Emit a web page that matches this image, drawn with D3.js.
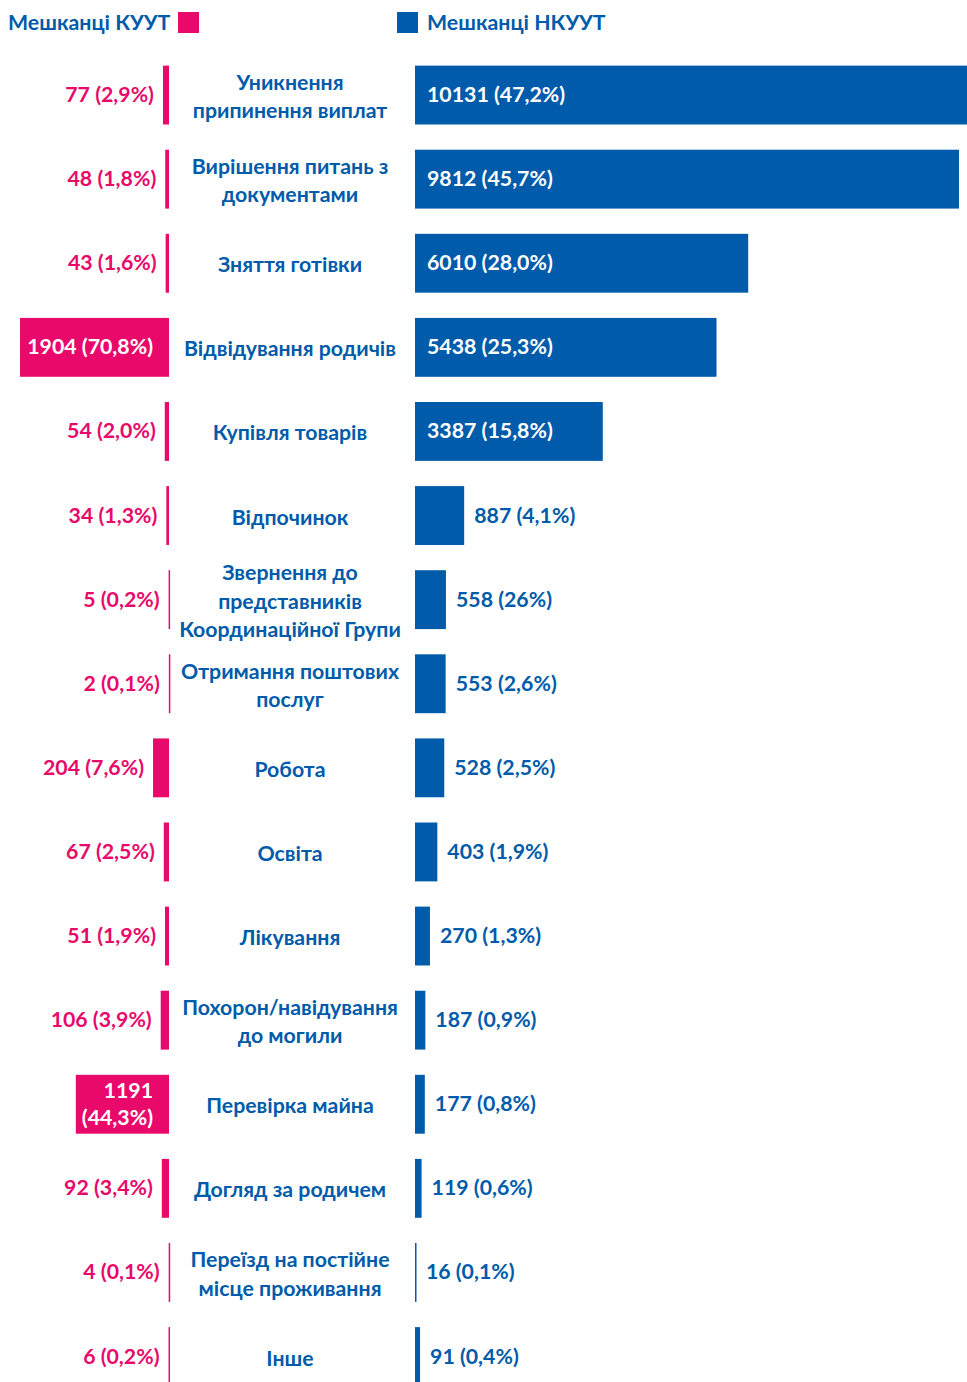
<!DOCTYPE html>
<html>
<head>
<meta charset="utf-8">
<script src="https://cdn.jsdelivr.net/npm/d3@7"></script>
<style>
  body { margin: 0; background: #fff; }
  text { font-family: Lato, "Open Sans", sans-serif; font-weight: 700; }
</style>
</head>
<body>
<svg id="chart" width="967" height="1382"></svg>
<script>
// categories (line breaks as in the original)
const categories = [
  ['Уникнення', 'припинення виплат'],
  ['Вирішення питань з', 'документами'],
  ['Зняття готівки'],
  ['Відвідування родичів'],
  ['Купівля товарів'],
  ['Відпочинок'],
  ['Звернення до', 'представників', 'Координаційної Групи'],
  ['Отримання поштових', 'послуг'],
  ['Робота'],
  ['Освіта'],
  ['Лікування'],
  ['Похорон/навідування', 'до могили'],
  ['Перевірка майна'],
  ['Догляд за родичем'],
  ['Переїзд на постійне', 'місце проживання'],
  ['Інше']
]
// residents of controlled area (КУУТ)
const kuutValues = [77, 48, 43, 1904, 54, 34, 5, 2, 204, 67, 51, 106, 1191, 92, 4, 6]
const kuutLabels = ['77 (2,9%)', '48 (1,8%)', '43 (1,6%)', '1904 (70,8%)', '54 (2,0%)', '34 (1,3%)',
  '5 (0,2%)', '2 (0,1%)', '204 (7,6%)', '67 (2,5%)', '51 (1,9%)', '106 (3,9%)',
  ['1191', '(44,3%)'], '92 (3,4%)', '4 (0,1%)', '6 (0,2%)']
// residents of non-controlled area (НКУУТ)
const nkuutValues = [10131, 9812, 6010, 5438, 3387, 887, 558, 553, 528, 403, 270, 187, 177, 119, 16, 91]
const nkuutLabels = ['10131 (47,2%)', '9812 (45,7%)', '6010 (28,0%)', '5438 (25,3%)', '3387 (15,8%)',
  '887 (4,1%)', '558 (26%)', '553 (2,6%)', '528 (2,5%)', '403 (1,9%)', '270 (1,3%)', '187 (0,9%)',
  '177 (0,8%)', '119 (0,6%)', '16 (0,1%)', '91 (0,4%)']
const legendNames = ['Мешканці КУУТ', 'Мешканці НКУУТ']

const pink = '#E8096B'
const blue = '#005BAA'
const fs = 21.3
const svg = d3.select('#chart')

const idx = d3.range(categories.length)
const y = d3.scaleBand().domain(idx).range([53, 53 + 16 * 84.1]).paddingInner(0.3).paddingOuter(0.15)
const xL = d3.scaleLinear().domain([0, 1904]).range([169, 20])
const xR = d3.scaleLinear().domain([0, 9812]).range([415, 959])

// legend
svg.append('text').attr('x', 8).attr('y', 30).attr('font-size', fs).attr('fill', blue).text(legendNames[0])
svg.append('rect').attr('x', 178).attr('y', 12).attr('width', 21).attr('height', 21).attr('fill', pink)
svg.append('rect').attr('x', 397).attr('y', 12).attr('width', 21).attr('height', 21).attr('fill', blue)
svg.append('text').attr('x', 427).attr('y', 30).attr('font-size', fs).attr('fill', blue).text(legendNames[1])

const row = svg.selectAll('g.row').data(idx).enter().append('g').attr('class', 'row')

// left bars
row.append('rect')
  .attr('x', i => xL(kuutValues[i]))
  .attr('y', i => y(i))
  .attr('width', i => Math.max(1.5, xL(0) - xL(kuutValues[i])))
  .attr('height', y.bandwidth())
  .attr('fill', pink)

// right bars
row.append('rect')
  .attr('x', xR(0))
  .attr('y', i => y(i))
  .attr('width', i => Math.max(1.5, xR(nkuutValues[i]) - xR(0)))
  .attr('height', y.bandwidth())
  .attr('fill', blue)

const mid = i => y(i) + y.bandwidth() / 2

// left value labels
row.each(function (i) {
  const g = d3.select(this)
  const inside = kuutValues[i] > 1000
  const lines = Array.isArray(kuutLabels[i]) ? kuutLabels[i] : [kuutLabels[i]]
  const t = g.append('text')
    .attr('text-anchor', 'end')
    .attr('font-size', fs)
    .attr('fill', inside ? '#fff' : pink)
  const x = inside ? xL(0) - 16 : xL(kuutValues[i]) - 9
  lines.forEach((s, k) => {
    t.append('tspan').attr('x', x)
      .attr('y', mid(i) + 7 + (k - (lines.length - 1) / 2) * 27)
      .text(s)
  })
})

// right value labels
row.append('text')
  .attr('font-size', fs)
  .attr('x', i => nkuutValues[i] > 2000 ? xR(0) + 12 : xR(nkuutValues[i]) + 10)
  .attr('y', i => mid(i) + 7)
  .attr('fill', i => nkuutValues[i] > 2000 ? '#fff' : blue)
  .text(i => nkuutLabels[i])

// category labels
row.each(function (i) {
  const lines = categories[i]
  const t = d3.select(this).append('text')
    .attr('text-anchor', 'middle')
    .attr('font-size', fs)
    .attr('fill', blue)
  lines.forEach((s, k) => {
    t.append('tspan').attr('x', 290)
      .attr('y', mid(i) + 9 + (k - (lines.length - 1) / 2) * 28.5)
      .text(s)
  })
})
</script>
</body>
</html>
